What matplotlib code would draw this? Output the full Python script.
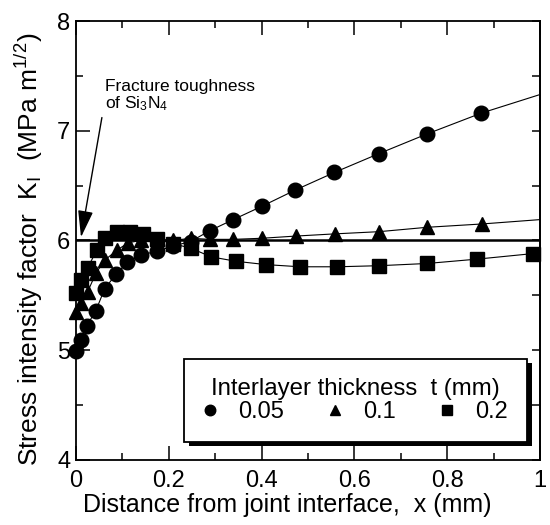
import numpy as np
import matplotlib
matplotlib.use("Agg")
import matplotlib.pyplot as plt
from matplotlib.lines import Line2D
from matplotlib.patches import Rectangle
from matplotlib.ticker import MultipleLocator

plt.rcParams['font.family'] = ['Liberation Sans', 'DejaVu Sans']
plt.rcParams['mathtext.fontset'] = 'custom'
plt.rcParams['mathtext.rm'] = 'Liberation Sans'
plt.rcParams['mathtext.it'] = 'Liberation Sans:italic'

# t = 0.05 mm (circles)
x_005 = [0, 0.010, 0.023, 0.043, 0.062, 0.086, 0.111, 0.141, 0.174, 0.210,
         0.247, 0.289, 0.339, 0.400, 0.473, 0.557, 0.652, 0.756, 0.873]
k_005 = [4.99, 5.09, 5.22, 5.36, 5.56, 5.69, 5.80, 5.87, 5.90, 5.95,
         5.99, 6.09, 6.19, 6.31, 6.46, 6.62, 6.79, 6.97, 7.16]
# t = 0.1 mm (triangles)
x_01 = [0, 0.010, 0.025, 0.043, 0.062, 0.088, 0.113, 0.141, 0.175, 0.210,
        0.247, 0.288, 0.339, 0.401, 0.474, 0.558, 0.653, 0.757, 0.874]
k_01 = [5.35, 5.43, 5.53, 5.70, 5.82, 5.91, 5.98, 6.00, 6.01, 6.00,
        6.02, 6.01, 6.01, 6.02, 6.04, 6.06, 6.08, 6.12, 6.15]
# t = 0.2 mm (squares)
x_02 = [0, 0.012, 0.025, 0.045, 0.062, 0.088, 0.116, 0.144, 0.175, 0.210,
        0.247, 0.292, 0.345, 0.409, 0.483, 0.563, 0.654, 0.756, 0.865, 0.984]
k_02 = [5.52, 5.64, 5.75, 5.91, 6.02, 6.08, 6.08, 6.06, 6.01, 5.97,
        5.93, 5.85, 5.81, 5.78, 5.76, 5.76, 5.77, 5.79, 5.83, 5.88]

# value of each fitted curve at x = 1
end_005, end_01, end_02 = 7.33, 6.19, 5.89
k_si3n4 = 6.0

labels = ['0.05', '0.1', '0.2']
xticklabels = ['0', '0.2', '0.4', '0.6', '0.8', '1']

fig = plt.figure(figsize=(5.5, 5.25), dpi=100)
ax = fig.add_axes([0.138, 0.124, 0.844, 0.836])

series = [(x_005, k_005, end_005, 'o', 10.5), (x_01, k_01, end_01, '^', 9.8),
          (x_02, k_02, end_02, 's', 9.6)]
for xs, ks, kend, m, ms in series:
    ax.plot(list(xs) + [1.0], list(ks) + [kend], color='black', lw=0.8)
    ax.plot(xs, ks, ls='none', marker=m, ms=ms, color='black', clip_on=False, zorder=4)

ax.axhline(k_si3n4, color='black', lw=1.8, zorder=3)

ax.annotate('', xy=(0.011, 6.03), xytext=(0.056, 7.12),
            arrowprops=dict(arrowstyle='-|>,head_length=1.65,head_width=0.47',
                            mutation_scale=10, color='black', lw=1, shrinkA=0, shrinkB=0))
ax.text(0.062, 7.47, 'Fracture toughness\nof Si$_3$N$_4$', ha='left', va='top',
        fontsize=12.5, linespacing=1.0)

ax.set_xlim(0, 1)
ax.set_ylim(4, 8)
ax.set_xticks([0, 0.2, 0.4, 0.6, 0.8, 1.0])
ax.set_xticklabels(xticklabels)
ax.xaxis.set_minor_locator(MultipleLocator(0.1))
ax.yaxis.set_major_locator(MultipleLocator(1))
ax.yaxis.set_minor_locator(MultipleLocator(0.5))
ax.tick_params(which='both', direction='in', top=True, right=False, width=1.1, labelsize=17)
ax.tick_params(which='major', length=10)
ax.tick_params(which='minor', length=5)
ax.tick_params(axis='x', pad=7)
ax.tick_params(axis='y', pad=4)
for s in ax.spines.values():
    s.set_linewidth(1.3)

sec = ax.secondary_yaxis('right')
sec.yaxis.set_major_locator(MultipleLocator(0.5))
sec.tick_params(direction='in', length=6, width=1.1, labelright=False)
sec.spines['right'].set_linewidth(1.3)

ax.set_xlabel('Distance from joint interface,  x (mm)', fontsize=18)
ax.xaxis.set_label_coords(0.455, -0.075)
ax.set_ylabel('Stress intensity factor  K$_\\mathrm{I}$  (MPa m$^{1/2}$)', fontsize=19)
ax.yaxis.set_label_coords(-0.066, 0.48)

handles = [Line2D([], [], ls='none', marker=m, color='black', ms=ms) for _, _, _, m, ms in series]
leg = ax.legend(handles, labels, title='Interlayer thickness  t (mm)', ncol=3,
                loc='lower left', bbox_to_anchor=(0.233, 0.041, 0.739, 0.19),
                mode='expand', borderaxespad=0,
                fontsize=17, title_fontsize=17.3, markerscale=0.72, handlelength=0.6,
                handletextpad=0.9, fancybox=False, framealpha=1,
                edgecolor='black', borderpad=0.8, labelspacing=0.05)
leg.get_frame().set_linewidth(1.3)
leg.set_zorder(6)

# solid black drop shadow behind the legend box
fig.canvas.draw()
bb = leg.get_window_extent().transformed(ax.transAxes.inverted())
dx, dy = 4.5 / 464, 4.5 / 439
ax.add_patch(Rectangle((bb.x0 + dx, bb.y0 - dy), bb.width, bb.height,
                       transform=ax.transAxes, facecolor='black',
                       edgecolor='none', zorder=5.5, clip_on=False))

fig.savefig('out.png', dpi=100)
